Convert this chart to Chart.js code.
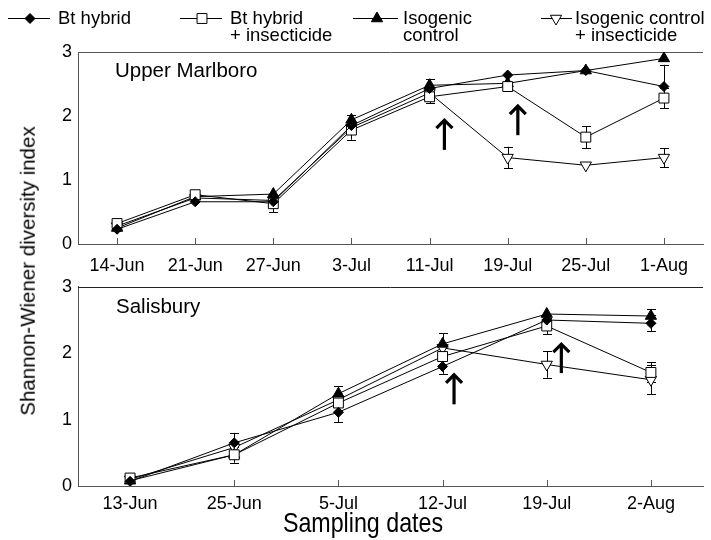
<!DOCTYPE html>
<html><head><meta charset="utf-8">
<script src="https://cdn.jsdelivr.net/npm/chart.js@4.4.0/dist/chart.umd.min.js"></script>
<style>
html,body{margin:0;padding:0;background:#fff;}
body{width:711px;height:540px;position:relative;overflow:hidden;font-family:"Liberation Sans",Arial,sans-serif;color:#000;}
#wa{position:absolute;left:0;top:0;width:711px;height:280px;}
#wb{position:absolute;left:0;top:270px;width:711px;height:270px;}
#ytitle{position:absolute;left:28px;top:271px;transform:translate(-50%,-50%) rotate(-90deg);font-size:20.5px;white-space:nowrap;line-height:1;}
#xtitle{position:absolute;left:363px;top:523px;transform:translate(-50%,-50%) scaleX(0.83);font-size:28px;white-space:nowrap;line-height:1;}
</style></head>
<body>
<div id="wa"><canvas id="ca" width="711" height="280"></canvas></div>
<div id="wb"><canvas id="cb" width="711" height="270"></canvas></div>
<div id="ytitle">Shannon-Wiener diversity index</div>
<div id="xtitle">Sampling dates</div>
<script>
// ---------- DATA ----------
const seriesNames = ['Bt hybrid', 'Bt hybrid\n+ insecticide', 'Isogenic\ncontrol', 'Isogenic control\n+ insecticide'];

// Upper Marlboro
const datesUM = ['14-Jun','21-Jun','27-Jun','3-Jul','11-Jul','19-Jul','25-Jul','1-Aug'];
const btUM       = [0.23, 0.66, 0.66, 1.85, 2.43, 2.64, 2.71, 2.46];
const btInsUM    = [0.32, 0.77, 0.63, 1.78, 2.30, 2.46, 1.67, 2.28];
const isoUM      = [0.25, 0.74, 0.78, 1.94, 2.48, 2.51, 2.71, 2.90];
const isoInsUM   = [0.28, 0.72, 0.68, 1.82, 2.36, 1.35, 1.23, 1.35];
const btErrUM     = [0, 0, 0, 0, 0, 0, 0, 0.34];
const btInsErrUM  = [0, 0, 0.13, 0.15, 0.10, 0, 0.17, 0.15];
const isoErrUM    = [0, 0, 0, 0.08, 0.10, 0, 0, 0];
const isoInsErrUM = [0, 0, 0, 0, 0, 0.17, 0, 0.15];
const arrowsUM = [[4.19, 1.95, 1.47], [5.13, 2.17, 1.70]]; // [category pos, tip, tail]

// Salisbury
const datesSA = ['13-Jun','25-Jun','5-Jul','12-Jul','19-Jul','2-Aug'];
const btSA       = [0.07, 0.65, 1.11, 1.80, 2.50, 2.45];
const btInsSA    = [0.12, 0.47, 1.25, 1.95, 2.41, 1.71];
const isoSA      = [0.08, 0.47, 1.39, 2.14, 2.59, 2.56];
const isoInsSA   = [0.10, 0.58, 1.30, 2.08, 1.83, 1.60];
const btErrSA     = [0, 0.15, 0.15, 0.11, 0, 0.12];
const btInsErrSA  = [0, 0.12, 0, 0, 0.12, 0.15];
const isoErrSA    = [0, 0, 0.11, 0.16, 0, 0.10];
const isoInsErrSA = [0, 0, 0, 0, 0.20, 0.22];
const arrowsSA = [[3.11, 1.69, 1.23], [4.14, 2.15, 1.70]];

const yTicks = [0, 1, 2, 3];

// ---------- STYLE ----------
const FONT = '"Liberation Sans", Arial, sans-serif';
const AXIS = '#555';
const markerStyles = [
  {pointStyle:'rectRot', radius:5, bg:'#000', rot:0},
  {pointStyle:'rect', radius:7, bg:'#fff', rot:0},
  {pointStyle:'triangle', radius:6.5, bg:'#000', rot:0},
  {pointStyle:'triangle', radius:6.5, bg:'#fff', rot:180}
];

function drawMarker(ctx, i, x, y) {
  const m = markerStyles[i], r = m.radius;
  ctx.save();
  ctx.lineWidth = 1; ctx.strokeStyle = '#000'; ctx.fillStyle = m.bg;
  ctx.beginPath();
  if (m.pointStyle === 'rectRot') {
    ctx.moveTo(x, y - r); ctx.lineTo(x + r, y); ctx.lineTo(x, y + r); ctx.lineTo(x - r, y);
  } else if (m.pointStyle === 'rect') {
    const s = Math.SQRT1_2 * r;
    ctx.rect(x - s, y - s, 2 * s, 2 * s);
  } else {
    let rad = m.rot * Math.PI / 180;
    for (let k = 0; k < 3; k++) {
      const px = x + Math.sin(rad) * r, py = y - Math.cos(rad) * r;
      if (k === 0) ctx.moveTo(px, py); else ctx.lineTo(px, py);
      rad += 2 * Math.PI / 3;
    }
  }
  ctx.closePath(); ctx.fill(); ctx.stroke();
  ctx.restore();
}

const decorPlugin = {
  id: 'decor',
  beforeDatasetsDraw(chart, args, o) {
    const {ctx, chartArea: a, scales: {x, y}} = chart;
    ctx.save();
    // top frame line
    ctx.strokeStyle = o.topColor; ctx.lineWidth = 1;
    ctx.beginPath(); ctx.moveTo(a.left, Math.round(a.top) + 0.5); ctx.lineTo(a.right, Math.round(a.top) + 0.5); ctx.stroke();
    // inward x ticks
    ctx.strokeStyle = AXIS;
    for (let i = 0; i < x.ticks.length; i++) {
      const px = Math.round(x.getPixelForTick(i)) + 0.5;
      ctx.beginPath(); ctx.moveTo(px, a.bottom); ctx.lineTo(px, a.bottom - 6); ctx.stroke();
    }
    // error bars
    ctx.strokeStyle = '#000';
    chart.data.datasets.forEach(ds => {
      ds.data.forEach((v, i) => {
        const e = ds.errors[i];
        if (!e) return;
        const px = Math.round(x.getPixelForValue(i)) + 0.5;
        const y1 = y.getPixelForValue(v + e), y2 = y.getPixelForValue(v - e);
        ctx.beginPath();
        ctx.moveTo(px, y1); ctx.lineTo(px, y2);
        ctx.moveTo(px - 4.5, Math.round(y1) + 0.5); ctx.lineTo(px + 4.5, Math.round(y1) + 0.5);
        ctx.moveTo(px - 4.5, Math.round(y2) + 0.5); ctx.lineTo(px + 4.5, Math.round(y2) + 0.5);
        ctx.stroke();
      });
    });
    ctx.restore();
  },
  afterDatasetsDraw(chart, args, o) {
    const {ctx, chartArea: a, scales: {x, y}} = chart;
    ctx.save();
    // arrows
    ctx.strokeStyle = '#000'; ctx.lineWidth = 3.2; ctx.lineCap = 'butt'; ctx.lineJoin = 'miter';
    o.arrows.forEach(([c, tip, tail]) => {
      const px = x.getPixelForValue(c), yt = y.getPixelForValue(tip), yb = y.getPixelForValue(tail);
      ctx.beginPath(); ctx.moveTo(px, yb); ctx.lineTo(px, yt + 1); ctx.stroke();
      ctx.beginPath(); ctx.moveTo(px - 8, yt + 9); ctx.lineTo(px, yt + 1); ctx.lineTo(px + 8, yt + 9); ctx.stroke();
    });
    // panel label
    ctx.fillStyle = '#000'; ctx.font = '20.5px ' + FONT; ctx.textBaseline = 'middle'; ctx.textAlign = 'left';
    ctx.fillText(o.label, a.left + o.labelDx, a.top + o.labelDy);
    ctx.restore();
  },
  afterDraw(chart, args, o) {
    if (!o.legend) return;
    const ctx = chart.ctx;
    ctx.save();
    const items = [
      {x1: 8, x2: 50, m: 30, t: 58},
      {x1: 180, x2: 222, m: 202, t: 230},
      {x1: 353, x2: 398, m: 377, t: 403},
      {x1: 541, x2: 572, m: 556, t: 575}
    ];
    ctx.font = '18.5px ' + FONT; ctx.fillStyle = '#000'; ctx.textBaseline = 'alphabetic'; ctx.textAlign = 'left';
    items.forEach((it, i) => {
      ctx.strokeStyle = '#000'; ctx.lineWidth = 1;
      ctx.beginPath(); ctx.moveTo(it.x1, 18.5); ctx.lineTo(it.x2, 18.5); ctx.stroke();
      drawMarker(ctx, i, it.m, 18.5);
      seriesNames[i].split('\n').forEach((line, k) => ctx.fillText(line, it.t, 24 + k * 16.5));
    });
    ctx.restore();
  }
};

function makeDatasets(vals, errs) {
  return vals.map((v, i) => ({
    label: seriesNames[i].replace('\n', ' '),
    data: v,
    errors: errs[i],
    borderColor: '#000',
    borderWidth: 1,
    backgroundColor: markerStyles[i].bg,
    pointBackgroundColor: markerStyles[i].bg,
    pointBorderColor: '#000',
    pointBorderWidth: 1,
    pointStyle: markerStyles[i].pointStyle,
    pointRadius: markerStyles[i].radius,
    pointRotation: markerStyles[i].rot,
    tension: 0,
    fill: false
  }));
}

function makeChart(id, labels, vals, errs, opt) {
  return new Chart(document.getElementById(id), {
    type: 'line',
    data: {labels: labels, datasets: makeDatasets(vals, errs)},
    options: {
      responsive: false,
      animation: false,
      events: [],
      layout: {padding: {top: opt.padTop, left: 0, right: 0, bottom: 0}},
      plugins: {
        legend: {display: false}, tooltip: {enabled: false},
        decor: {arrows: opt.arrows, label: opt.label, labelDx: opt.labelDx, labelDy: opt.labelDy, legend: opt.legend, topColor: opt.topColor}
      },
      scales: {
        x: {
          type: 'category', offset: true,
          grid: {display: true, drawOnChartArea: false, drawTicks: false},
          border: {display: true, color: AXIS, width: 1},
          ticks: {font: {family: FONT, size: 18}, color: '#000', padding: opt.xPad, maxRotation: 0, autoSkip: false},
          afterFit(s) { s.height = opt.xHeight; }
        },
        y: {
          min: 0, max: 3,
          afterBuildTicks(s) { s.ticks = yTicks.map(v => ({value: v})); },
          grid: {display: true, drawOnChartArea: false, drawTicks: false},
          border: {display: true, color: AXIS, width: 1},
          ticks: {font: {family: FONT, size: 18}, color: '#000', padding: 6},
          afterFit(s) { s.width = 78; }
        }
      }
    },
    plugins: [decorPlugin]
  });
}

makeChart('ca', datesUM,
  [btUM, btInsUM, isoUM, isoInsUM],
  [btErrUM, btInsErrUM, isoErrUM, isoInsErrUM],
  {padTop: 52, xHeight: 36, xPad: 11, arrows: arrowsUM, label: 'Upper Marlboro', labelDx: 37, labelDy: 19, legend: true, topColor: AXIS});

makeChart('cb', datesSA,
  [btSA, btInsSA, isoSA, isoInsSA],
  [btErrSA, btInsErrSA, isoErrSA, isoInsErrSA],
  {padTop: 16, xHeight: 54, xPad: 7, arrows: arrowsSA, label: 'Salisbury', labelDx: 38, labelDy: 21, legend: false, topColor: '#222'});
</script>
</body></html>
